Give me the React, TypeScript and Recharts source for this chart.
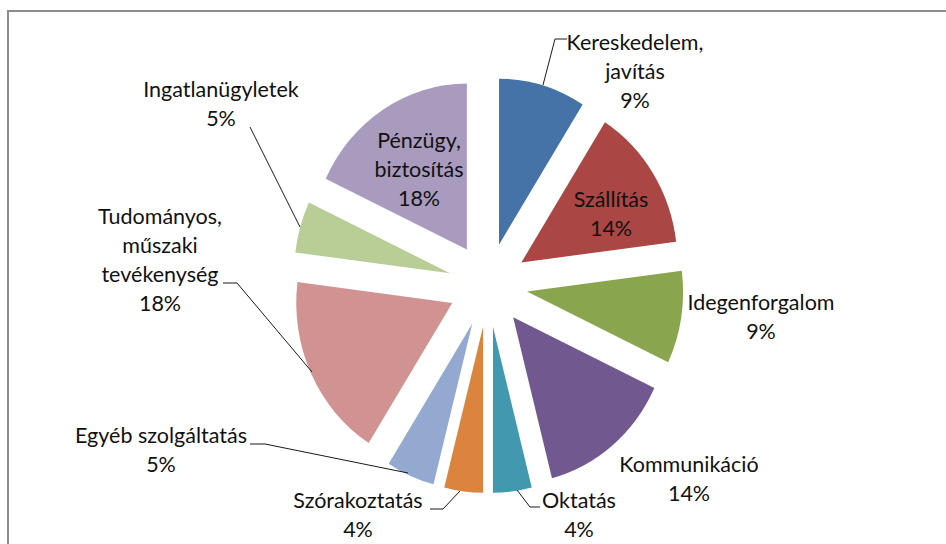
import React from "react";
import { PieChart, Pie, Cell, Sector } from "recharts";

// ---- data ----
const categories = [
  "Kereskedelem, javítás",
  "Szállítás",
  "Idegenforgalom",
  "Kommunikáció",
  "Oktatás",
  "Szórakoztatás",
  "Egyéb szolgáltatás",
  "Tudományos, műszaki tevékenység",
  "Ingatlanügyletek",
  "Pénzügy, biztosítás",
];
const shares = [9, 14, 9, 14, 4, 4, 5, 18, 5, 18];
const labelLines = [
  ["Kereskedelem,", "javítás"],
  ["Szállítás"],
  ["Idegenforgalom"],
  ["Kommunikáció"],
  ["Oktatás"],
  ["Szórakoztatás"],
  ["Egyéb szolgáltatás"],
  ["Tudományos,", "műszaki", "tevékenység"],
  ["Ingatlanügyletek"],
  ["Pénzügy,", "biztosítás"],
];

// ---- styles ----
const colors = [
  "#4572A7",
  "#AA4643",
  "#89A54E",
  "#71588F",
  "#4198AF",
  "#DB843D",
  "#93A9CF",
  "#D19392",
  "#B9CD96",
  "#A99BBD",
];

// label layout relative to pie centre: text centre x, first baseline y, leader polyline
const labelLayout: { x: number; y: number; leader?: number[][] }[] = [
  { x: 147, y: -235, leader: [[79, -246], [67, -246], [55, -200]] },
  { x: 123, y: -78 },
  { x: 273, y: 25 },
  { x: 201, y: 187 },
  { x: 91, y: 223, leader: [[52, 222], [42, 222], [29, 205]] },
  { x: -130, y: 223, leader: [[-58, 224], [-45, 224], [-28, 206]] },
  { x: -327, y: 158, leader: [[-238, 159], [-223, 159], [-80, 188]] },
  { x: -328, y: -61, leader: [[-265, -2], [-251, -2], [-176, 87]] },
  { x: -267, y: -188, leader: [[-238, -158], [-188, -58]] },
  { x: -69, y: -137 },
];

const EXPLODE = 42;
const SCALE_X = 0.94;
const LINE_H = 29;
const FONT = "Lato, 'Open Sans', sans-serif";
const FONT_SIZE = 21.5;

const data = categories.map((name, i) => ({ name, value: shares[i] }));

const ExplodedSector = (props: any) => {
  const { cx, cy, midAngle } = props;
  const rad = (-midAngle * Math.PI) / 180;
  return (
    <g transform={`translate(${cx},${cy}) scale(${SCALE_X},1) translate(${-cx},${-cy})`}>
      <Sector
        {...props}
        cx={cx + EXPLODE * Math.cos(rad)}
        cy={cy + EXPLODE * Math.sin(rad)}
        stroke="none"
      />
    </g>
  );
};

const renderLabel = (props: any) => {
  const { cx, cy, index, value } = props;
  const lay = labelLayout[index];
  const lines = [...labelLines[index], `${value}%`];
  const tx = cx + lay.x;
  const ty = cy + lay.y;
  return (
    <g key={`lbl-${index}`}>
      {lay.leader && (
        <polyline
          points={lay.leader.map(([px, py]) => `${cx + px},${cy + py}`).join(" ")}
          fill="none"
          stroke="#1a1a1a"
          strokeWidth={1}
        />
      )}
      <text
        x={tx}
        y={ty}
        textAnchor="middle"
        fontFamily={FONT}
        fontSize={FONT_SIZE}
        fill="#111"
      >
        {lines.map((ln, k) => (
          <tspan key={k} x={tx} y={ty + k * LINE_H}>
            {ln}
          </tspan>
        ))}
      </text>
    </g>
  );
};

export default function App() {
  return (
    <div
      style={{
        position: "absolute",
        left: 0,
        top: 0,
        width: 946,
        height: 544,
        background: "#fff",
        overflow: "hidden",
      }}
    >
      <PieChart width={946} height={544}>
        <Pie
          data={data}
          dataKey="value"
          nameKey="name"
          cx={483}
          cy={280}
          outerRadius={166}
          startAngle={90}
          endAngle={-270}
          stroke="none"
          isAnimationActive={false}
          shape={ExplodedSector}
          label={renderLabel}
          labelLine={false}
        >
          {data.map((d, i) => (
            <Cell key={d.name} fill={colors[i]} />
          ))}
        </Pie>
      </PieChart>
      <div
        style={{
          position: "absolute",
          left: 7,
          top: 10,
          width: 939,
          height: 2,
          background: "#8c8c8c",
        }}
      />
      <div
        style={{
          position: "absolute",
          left: 7,
          top: 10,
          width: 2,
          height: 534,
          background: "#8c8c8c",
        }}
      />
    </div>
  );
}
